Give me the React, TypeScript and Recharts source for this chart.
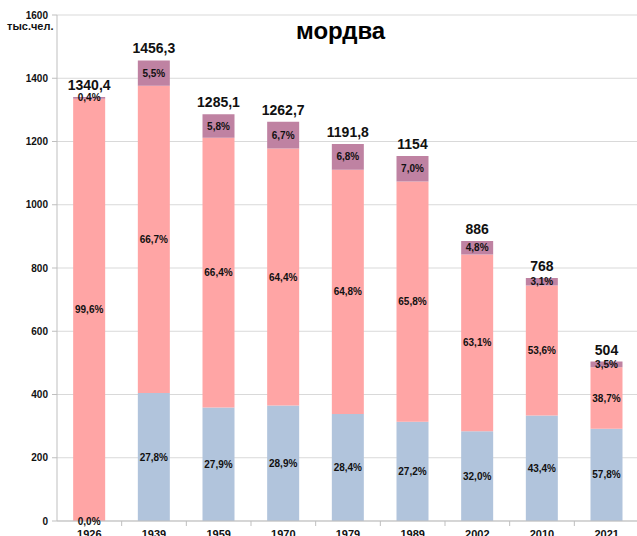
import { BarChart, Bar, XAxis, YAxis, CartesianGrid, LabelList } from "recharts";

const years = ["1926", "1939", "1959", "1970", "1979", "1989", "2002", "2010", "2021"];
const totals = [1340.4, 1456.3, 1285.1, 1262.7, 1191.8, 1154, 886, 768, 504];
// shares of each total, percent
const russianPct = [0.0, 27.8, 27.9, 28.9, 28.4, 27.2, 32.0, 43.4, 57.8];
const mordvinPct = [99.6, 66.7, 66.4, 64.4, 64.8, 65.8, 63.1, 53.6, 38.7];
const otherPct = [0.4, 5.5, 5.8, 6.7, 6.8, 7.0, 4.8, 3.1, 3.5];
const yTicks = [0, 200, 400, 600, 800, 1000, 1200, 1400, 1600];

const COLORS = { russian: "#b1c4dc", mordvin: "#ffa5a5", other: "#bf82a2" };
const FONT = "'Liberation Sans', Arial, sans-serif";

const CHART_W = 640;
const Y_AXIS_W = 57;
const MARGIN_R = 1;
const STEP = (CHART_W - Y_AXIS_W - MARGIN_R) / years.length;

const fmt = (v: number) => v.toFixed(1).replace(".", ",");
const fmtTotal = (v: number) => (Number.isInteger(v) ? String(v) : fmt(v));

const data = years.map((y, i) => ({
    year: y,
    russian: (totals[i] * russianPct[i]) / 100,
    mordvin: (totals[i] * mordvinPct[i]) / 100,
    other: (totals[i] * otherPct[i]) / 100,
    russianLabel: fmt(russianPct[i]) + "%",
    mordvinLabel: fmt(mordvinPct[i]) + "%",
    otherLabel: fmt(otherPct[i]) + "%",
    totalLabel: fmtTotal(totals[i]),
}));

const pctStyle = { fontSize: 10, fontWeight: 700, fill: "#111", fontFamily: FONT };

// year label plus a tick mark on the boundary between categories
function YearTick(props: any) {
    const { x, y, payload } = props;
    const axisY = y - 9;
    return (
        <g>
            <line x1={x + STEP / 2} x2={x + STEP / 2} y1={axisY} y2={axisY + 5} stroke="#bfbfbf" />
            <text
                x={x}
                y={y}
                dy="0.71em"
                textAnchor="middle"
                fontSize={11}
                fontWeight={700}
                fill="#111"
                fontFamily={FONT}
            >
                {payload.value}
            </text>
        </g>
    );
}

export default function App() {
    return (
        <div
            style={{
                position: "absolute",
                left: 0,
                top: 0,
                width: 637,
                height: 536,
                overflow: "hidden",
                background: "#fff",
                fontFamily: FONT,
            }}
        >
            <BarChart
                width={CHART_W}
                height={541}
                data={data}
                margin={{ top: 15, right: MARGIN_R, bottom: 0, left: 0 }}
                barCategoryGap="25%"
            >
                <CartesianGrid stroke="#d9d9d9" vertical={false} />
                <XAxis
                    dataKey="year"
                    height={20}
                    tickLine={false}
                    tickSize={5}
                    tickMargin={4}
                    axisLine={{ stroke: "#bfbfbf" }}
                    tick={<YearTick />}
                    interval={0}
                />
                <YAxis
                    width={Y_AXIS_W}
                    domain={[0, 1600]}
                    ticks={yTicks}
                    tickSize={5}
                    tickLine={{ stroke: "#bfbfbf" }}
                    axisLine={{ stroke: "#bfbfbf" }}
                    tick={{ fontSize: 10, fontWeight: 700, fill: "#111", fontFamily: FONT }}
                    tickMargin={4}
                />
                <Bar
                    dataKey="russian"
                    stackId="a"
                    fill={COLORS.russian}
                    minPointSize={0.1}
                    isAnimationActive={false}
                >
                    <LabelList dataKey="russianLabel" position="center" style={pctStyle} />
                </Bar>
                <Bar dataKey="mordvin" stackId="a" fill={COLORS.mordvin} isAnimationActive={false}>
                    <LabelList dataKey="mordvinLabel" position="center" style={pctStyle} />
                </Bar>
                <Bar dataKey="other" stackId="a" fill={COLORS.other} isAnimationActive={false}>
                    <LabelList dataKey="otherLabel" position="center" style={pctStyle} />
                    <LabelList
                        dataKey="totalLabel"
                        position="top"
                        offset={7}
                        style={{ fontSize: 14, fontWeight: 700, fill: "#111", fontFamily: FONT }}
                    />
                </Bar>
            </BarChart>
            <div
                style={{
                    position: "absolute",
                    left: 7,
                    top: 20,
                    fontSize: 11,
                    fontWeight: 700,
                    color: "#111",
                }}
            >
                тыс.чел.
            </div>
            <div
                style={{
                    position: "absolute",
                    left: 290,
                    top: 17,
                    padding: "0 6px",
                    background: "#fff",
                    fontSize: 24,
                    fontWeight: 700,
                    color: "#000",
                    lineHeight: "28px",
                }}
            >
                мордва
            </div>
        </div>
    );
}
